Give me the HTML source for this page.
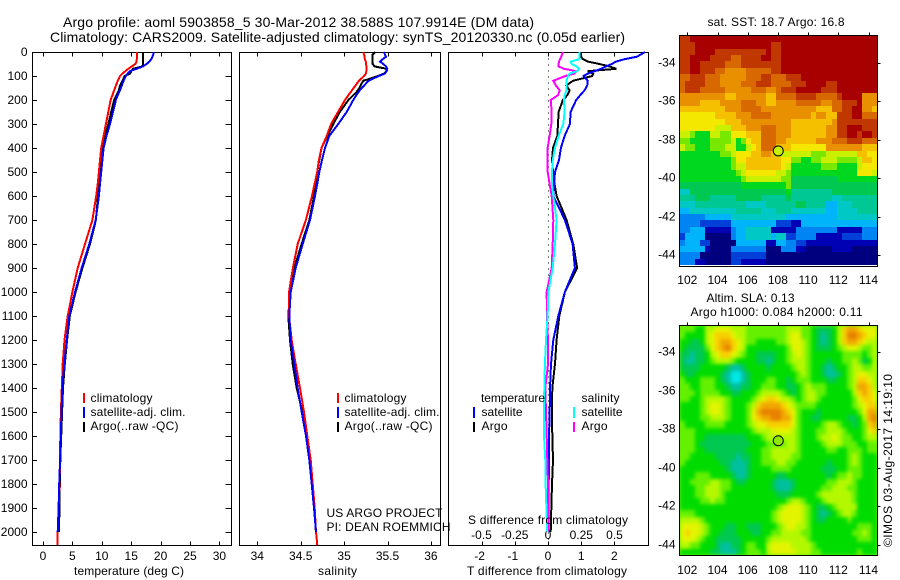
<!DOCTYPE html>
<html>
<head>
<meta charset="utf-8">
<title>Argo profile</title>
<style>
html,body{margin:0;padding:0;background:#fff;}
svg{display:block;}
text{font-family:"Liberation Sans",Arial,sans-serif;font-size:12px;fill:#000;}
.title{font-size:14px;}
</style>
</head>
<body>
<svg id="figure" width="900" height="580" viewBox="0 0 900 580" xmlns="http://www.w3.org/2000/svg">
  <defs>
    <filter id="smooth" filterUnits="userSpaceOnUse" x="680" y="326" width="197" height="229" color-interpolation-filters="sRGB">
      <feGaussianBlur stdDeviation="1.8"/>
    </filter>
  </defs>
  <rect x="0" y="0" width="900" height="580" fill="#fff"/>
  <text class="title" x="63" y="27" textLength="471">Argo profile: aoml 5903858_5 30-Mar-2012 38.588S 107.9914E (DM data)</text>
  <text class="title" x="50" y="42" textLength="575">Climatology: CARS2009. Satellite-adjusted climatology: synTS_20120330.nc (0.05d earlier)</text>

  <g id="marks"></g>

  <text x="74" y="575" textLength="110">temperature (deg C)</text>
  <text x="318" y="575" textLength="39">salinity</text>
  <text x="467" y="575" textLength="160">T difference from climatology</text>
  <text x="468" y="524" textLength="160">S difference from climatology</text>

  <g>
    <rect x="83" y="393" width="2" height="10" fill="#f00"/>
    <rect x="83" y="407" width="2" height="11" fill="#00f"/>
    <rect x="83" y="422" width="2" height="10" fill="#000"/>
    <text x="90.5" y="402" textLength="62">climatology</text>
    <text x="90.5" y="416" textLength="95">satellite-adj. clim.</text>
    <text x="90.5" y="430" textLength="88">Argo(..raw -QC)</text>
  </g>
  <g>
    <rect x="337" y="393" width="2" height="10" fill="#f00"/>
    <rect x="337" y="407" width="2" height="11" fill="#00f"/>
    <rect x="337" y="422" width="2" height="10" fill="#000"/>
    <text x="344.5" y="402" textLength="62">climatology</text>
    <text x="344.5" y="416" textLength="95">satellite-adj. clim.</text>
    <text x="344.5" y="430" textLength="88">Argo(..raw -QC)</text>
  </g>
  <g>
    <text x="481" y="402" textLength="64">temperature</text>
    <text x="481.5" y="416" textLength="41">satellite</text>
    <text x="481.5" y="430" textLength="26">Argo</text>
    <rect x="473" y="407" width="2" height="11" fill="#00f"/>
    <rect x="473" y="422" width="2" height="10" fill="#000"/>
    <text x="581.5" y="402" textLength="38">salinity</text>
    <text x="581.5" y="416" textLength="41">satellite</text>
    <text x="581.5" y="430" textLength="26">Argo</text>
    <rect x="573" y="407" width="2" height="11" fill="#0ff"/>
    <rect x="573" y="422" width="2" height="10" fill="#f0f"/>
  </g>
  <text x="326.5" y="517" textLength="116">US ARGO PROJECT</text>
  <text x="326.5" y="531" textLength="124">PI: DEAN ROEMMICH</text>

  <text x="707.5" y="26" textLength="137">sat. SST: 18.7 Argo: 16.8</text>
  <text x="706.5" y="302" textLength="88">Altim. SLA: 0.13</text>
  <text x="690.5" y="316" textLength="172">Argo h1000: 0.084 h2000: 0.11</text>
  <text transform="translate(892,547) rotate(-90)" x="0" y="0" textLength="173">©IMOS 03-Aug-2017 14:19:10</text>
</svg>

<script>
// Shared depth levels (m) for all profile series
const depths = [0,10,20,30,40,50,60,70,80,90,100,120,140,160,180,200,250,300,350,400,450,500,550,600,700,800,900,1000,1100,1200,1300,1400,1500,1600,1700,1800,1900,2000,2055];

// Temperature profiles (deg C)
const climTemp = [16.0,16.0,16.0,15.95,15.9,15.7,15.1,14.5,14.0,13.5,13.1,12.7,12.4,12.1,11.8,11.5,11.1,10.7,10.3,9.9,9.7,9.5,9.3,9.05,8.4,7.15,5.9,5.0,4.2,3.65,3.35,3.2,3.05,2.95,2.9,2.8,2.65,2.5,2.5];
const satTemp = [18.8,18.75,18.6,18.4,18.1,17.6,17.0,15.9,14.8,14.4,14.1,13.7,13.4,13.1,12.7,12.4,11.9,11.4,10.8,10.3,10.1,9.9,9.7,9.5,8.97,7.87,6.59,5.45,4.47,4.03,3.63,3.28,3.15,3.05,2.9,2.75,2.65,2.5,null];
const argoTemp = [17.0,17.0,17.0,17.0,17.0,17.0,16.9,15.3,15.0,14.8,13.9,13.5,13.1,12.9,12.5,12.1,11.6,11.1,10.6,10.1,9.9,9.7,9.5,9.35,9.0,8.0,6.7,5.55,4.55,4.1,3.7,3.4,3.25,3.1,2.95,2.85,2.8,2.7,null];

// Salinity profiles
const climSal = [35.22,35.23,35.235,35.24,35.25,35.255,35.256,35.256,35.256,35.25,35.23,35.17,35.13,35.09,35.05,35.01,34.93,34.85,34.80,34.74,34.71,34.69,34.66,34.63,34.56,34.465,34.41,34.365,34.365,34.396,34.442,34.492,34.538,34.576,34.615,34.638,34.661,34.676,34.691];
const satSal = [35.46,35.47,35.483,35.445,35.414,35.452,35.483,35.498,35.49,35.47,35.40,35.28,35.23,35.18,35.14,35.106,35.03,34.933,34.83,34.78,34.745,34.714,34.69,34.665,34.607,34.523,34.442,34.385,34.369,34.385,34.426,34.465,34.512,34.561,34.599,34.627,34.653,34.676,null];
const argoSal = [35.36,35.33,35.33,35.33,35.33,35.33,35.35,35.49,35.49,35.46,35.39,35.22,35.19,35.16,35.106,35.05,34.95,34.875,34.806,34.74,34.714,34.69,34.676,34.653,34.6,34.51,34.426,34.377,34.357,34.377,34.408,34.454,34.52,34.57,34.60,34.63,34.655,34.675,null];

// Differences from climatology
const tDiffSat = [2.92,2.8,2.67,2.3,2.05,1.92,1.75,1.6,1.4,1.2,1.07,1.2,1.18,1.1,0.97,0.85,0.68,0.66,0.5,0.39,0.33,0.21,0.18,0.16,0.51,0.74,0.81,0.51,0.31,0.16,0.09,0.06,0.05,0.03,0.03,0.02,0.02,0.02,null];
const tDiffArgo = [1,1,1,1.05,1.2,1.55,1.85,2.06,1.2,1.36,1.33,0.75,0.55,0.65,0.58,0.45,0.32,0.3,0.28,0.15,0.12,0.15,0.2,0.26,0.56,0.76,0.88,0.51,0.34,0.26,0.21,0.13,0.12,0.13,0.15,0.12,0.1,0.08,null];
const sDiffSat = [0.238,0.238,0.238,0.238,0.17,0.18,0.213,0.235,0.22,0.163,0.15,0.138,0.138,0.138,0.125,0.12,0.125,0.115,0.08,0.052,0.036,0.03,0.03,0.04,0.065,0.053,0.035,0.003,-0.003,-0.015,-0.023,-0.028,-0.03,-0.03,-0.02,-0.018,-0.012,-0.005,null];
const sDiffArgo = [0.113,0.105,0.10,0.09,0.083,0.08,0.08,0.12,0.213,0.2,0.13,0.04,0.06,0.088,0.075,0.02,0.028,0.025,0.012,-0.003,-0.005,-0.002,0.012,0.028,0.04,0.035,0.028,-0.01,-0.008,0,0,-0.02,-0.015,-0.01,-0.005,0,0,0,null];

// Axis ticks
const depthTicks = [0,100,200,300,400,500,600,700,800,900,1000,1100,1200,1300,1400,1500,1600,1700,1800,1900,2000];
const tempTicks = [0,5,10,15,20,25,30];
const salTicks = [34,34.5,35,35.5,36];
const tDiffTicks = [-2,-1,0,1,2];
const sDiffTicks = [-0.5,-0.25,0,0.25,0.5];
const lonTicks = [102,104,106,108,110,112,114];
const latTicks = [34,36,38,40,42,44];
const floatLon = 107.9914;
const floatLat = 38.588;

// Sea surface temperature map, colour level per cell (row = north to south)
const sstLevels = [
[15,15,16,16,16,16,16,16,16,16,16,16,16,16,16,16,16,16,16,16,16,16,16,16,16,16,16,16,16,16,16,16,16,16,16,16,16,16,16],
[15,15,15,16,16,16,16,16,16,16,16,16,16,16,16,16,16,16,15,15,16,16,16,16,16,16,16,16,16,16,16,16,16,16,16,16,16,16,16],
[15,15,15,16,16,16,16,15,15,15,15,15,15,15,15,15,15,16,15,15,16,16,16,16,16,16,16,16,16,16,16,16,16,16,16,16,16,16,16],
[15,15,16,16,16,16,15,15,15,15,14,14,15,15,15,15,16,16,15,15,16,16,16,16,16,16,16,16,16,16,16,16,16,16,16,16,16,16,16],
[15,15,16,16,15,15,15,15,15,14,14,14,15,15,15,15,15,15,15,15,16,16,16,16,16,16,16,16,16,16,16,16,16,16,16,16,16,16,16],
[15,15,16,16,15,15,15,14,14,13,13,13,13,14,14,14,14,14,15,15,16,16,16,16,16,16,16,16,16,16,16,16,16,16,16,16,16,16,16],
[14,14,15,15,15,14,14,14,13,13,13,13,13,14,14,14,15,15,14,14,14,15,15,15,16,16,16,16,16,16,16,16,16,16,16,16,16,16,16],
[14,15,15,15,15,14,14,14,13,13,13,13,14,14,14,15,15,15,14,14,14,14,15,15,15,16,16,16,16,15,15,16,16,16,16,16,16,16,16],
[14,15,15,15,14,14,14,14,14,13,13,13,13,13,14,14,14,13,13,14,15,15,15,16,16,16,16,16,15,15,15,16,16,16,16,16,16,16,16],
[13,13,13,13,13,13,13,13,13,12,12,13,13,13,13,13,13,12,12,14,14,14,14,15,15,15,15,14,14,14,14,15,16,16,16,16,13,13,13],
[13,13,13,13,12,12,12,12,13,13,13,13,14,14,14,13,13,12,12,13,13,13,13,14,14,14,14,14,13,13,14,14,15,15,15,16,13,13,13],
[12,12,12,12,12,12,12,12,12,13,13,13,14,14,14,14,13,13,13,13,13,13,13,13,13,13,13,12,12,12,14,14,15,15,16,16,13,13,12],
[11,11,11,11,11,11,11,12,12,12,12,13,13,13,14,14,14,14,13,13,13,13,13,13,13,13,12,13,13,12,12,15,15,15,16,16,14,14,14],
[11,11,11,11,11,11,11,11,11,12,12,12,13,13,13,13,13,13,13,13,13,13,12,12,12,12,12,12,12,12,13,15,15,15,15,15,15,15,15],
[11,11,11,11,11,11,11,10,10,10,12,12,12,13,13,13,14,14,14,13,13,13,12,12,12,12,12,12,12,13,13,15,15,16,16,16,15,15,15],
[10,10,9,8,8,8,10,10,9,9,11,11,11,12,12,12,14,14,14,13,13,13,12,12,12,12,12,12,12,13,13,15,15,16,16,15,16,16,15],
[9,9,8,8,8,8,9,9,9,9,10,8,9,11,12,12,14,14,14,13,13,12,12,12,12,12,12,13,13,13,14,14,14,15,15,15,14,14,14],
[10,9,9,8,8,8,9,9,9,10,10,8,8,10,11,12,14,14,14,12,12,12,11,11,11,11,11,11,11,13,13,13,13,13,13,13,12,12,12],
[8,8,8,8,8,8,8,8,9,9,10,11,11,11,12,12,13,13,12,10,10,10,10,10,10,10,9,9,9,10,10,10,10,10,10,12,12,11,11],
[8,8,8,8,8,8,8,8,8,8,9,11,11,12,12,12,12,12,12,12,11,11,9,9,8,8,9,9,10,10,10,9,9,9,9,10,12,12,11],
[8,8,8,8,8,8,8,8,8,8,9,10,10,12,12,12,12,12,12,12,11,10,8,8,8,8,8,8,9,9,9,8,8,8,8,10,11,11,11],
[8,8,8,8,8,8,8,8,8,8,8,9,10,11,11,11,11,11,11,10,10,9,8,8,8,8,8,8,8,8,8,8,8,8,8,11,11,11,10],
[8,8,8,8,8,8,8,8,8,8,8,8,9,10,10,10,10,10,10,10,9,9,7,7,7,7,7,7,7,7,7,8,8,8,8,8,8,8,8],
[7,7,7,7,7,7,7,7,7,7,7,7,8,8,8,8,8,8,8,8,8,9,7,7,7,7,7,7,7,7,7,7,7,7,7,7,7,7,7],
[5,5,7,7,7,7,7,7,7,7,7,7,7,7,7,7,7,7,7,7,7,8,6,6,6,6,6,6,6,6,7,7,7,7,7,7,7,7,7],
[6,6,6,7,7,7,6,6,6,6,6,7,7,7,7,7,6,6,6,6,6,7,6,6,6,6,6,6,6,6,5,5,6,6,6,6,6,6,6],
[5,5,5,6,6,6,6,6,6,6,6,6,6,5,5,5,5,6,6,6,6,6,6,7,7,6,6,6,6,4,4,5,5,5,6,6,6,6,6],
[4,4,5,5,5,5,5,5,5,5,5,6,6,6,6,6,5,5,5,6,6,6,5,5,5,5,5,5,5,4,4,5,5,5,5,6,6,6,6],
[3,3,3,3,3,4,4,4,4,4,5,5,5,5,5,5,5,5,5,5,5,4,4,4,4,4,4,4,4,4,4,5,5,5,5,5,5,5,5],
[3,3,3,3,2,2,2,2,2,2,4,4,4,4,4,4,4,4,4,2,2,2,1,1,4,4,4,4,4,4,4,4,4,4,4,4,4,4,4],
[3,3,4,4,4,1,1,1,1,1,3,4,4,5,5,5,5,5,1,1,1,1,1,3,3,3,3,3,3,3,3,1,1,1,1,1,3,3,3],
[2,4,4,4,4,0,0,0,0,0,3,4,4,5,5,5,5,5,4,5,5,2,2,3,3,3,3,1,1,1,1,1,2,2,2,2,3,3,3],
[3,4,4,4,2,2,0,0,0,0,0,4,4,4,4,4,4,1,1,4,4,3,3,2,2,1,1,1,1,1,1,1,1,1,1,1,1,1,1],
[4,4,4,4,4,1,0,0,0,0,3,3,3,3,3,3,3,0,0,0,3,3,3,1,1,0,0,0,0,0,1,1,1,1,0,0,0,0,0],
[3,3,3,3,0,0,0,0,0,0,2,2,2,2,2,2,2,0,0,0,0,0,0,0,0,0,0,0,0,0,0,0,0,0,0,0,0,0,0],
[3,3,3,1,1,0,0,0,0,0,2,2,1,1,1,1,1,0,0,0,0,0,0,0,0,0,0,0,0,0,0,0,0,0,0,0,0,0,0]
];

// Sea level anomaly map, colour level per cell (row = north to south)
const slaLevels = [
[4,4,4,3,3,5,5,6,6,6,5,5,5,4,4,4,4,4,4,4,4,5,5,5,4,4,3,2,2,2,3,5,7,8,8,7,6,6,6],
[4,3,3,3,3,5,6,7,7,7,6,5,5,4,4,4,4,4,4,4,4,5,6,6,4,4,3,2,1,2,3,5,7,9,9,8,7,6,6],
[3,3,2,2,3,5,6,7,8,8,7,6,5,4,4,3,3,3,3,4,4,5,6,6,5,4,3,2,1,2,3,5,7,8,8,7,6,5,5],
[3,2,2,2,2,4,6,7,8,9,7,6,5,3,3,3,3,3,3,3,3,4,6,6,5,4,3,2,2,2,3,4,5,6,6,5,4,4,5],
[2,2,1,2,2,3,5,6,7,7,6,5,4,3,3,2,2,2,2,3,3,4,5,6,5,4,3,3,3,3,3,3,4,4,4,4,3,4,5],
[2,1,1,2,2,3,4,5,5,5,4,3,3,3,3,2,2,1,2,3,3,4,5,5,5,4,3,3,3,2,3,3,4,4,5,4,2,3,5],
[2,2,2,2,3,3,3,3,3,2,1,1,2,3,3,3,3,2,3,3,3,3,4,5,5,4,3,3,2,1,2,3,3,4,5,5,4,4,5],
[3,2,2,3,3,3,3,3,2,1,0,0,1,2,3,3,3,3,3,3,3,3,3,4,5,4,3,3,2,1,1,2,3,4,5,6,6,5,5],
[4,3,3,3,4,4,4,3,2,1,0,0,1,2,3,3,3,4,4,3,3,2,3,4,4,4,3,3,3,2,2,3,3,4,5,7,7,6,5],
[4,4,3,3,4,4,4,3,3,2,1,1,2,2,3,3,4,4,4,3,3,2,2,3,4,5,4,4,4,3,3,3,3,4,5,8,8,7,5],
[4,4,4,3,4,4,4,4,3,3,2,2,3,3,3,4,5,5,5,5,4,3,2,3,4,5,5,4,4,3,3,3,3,3,5,7,8,7,6],
[4,4,3,3,4,5,5,5,5,4,3,3,3,3,4,5,6,7,7,6,5,5,4,3,4,5,5,4,3,3,3,3,3,3,4,6,7,7,6],
[3,3,3,3,4,5,6,6,5,4,3,3,3,4,5,7,8,8,8,8,7,6,5,4,4,4,4,3,3,3,3,3,3,3,4,5,6,7,7],
[3,3,3,3,4,5,6,6,5,4,3,3,3,4,6,8,9,9,9,9,8,7,6,4,3,3,3,2,3,3,3,3,3,3,3,4,6,8,8],
[3,3,3,3,4,4,5,5,5,4,3,3,3,4,6,7,8,8,9,9,8,8,6,4,3,3,2,2,3,3,3,3,3,2,2,3,5,8,9],
[4,3,3,3,3,4,4,4,4,3,3,3,3,4,5,6,6,7,7,7,7,7,6,4,3,3,3,3,4,5,5,4,3,3,2,3,4,7,8],
[4,4,4,3,3,3,3,3,3,3,3,3,3,3,4,5,5,5,6,6,6,6,5,4,3,3,3,4,4,5,5,5,4,3,3,3,4,6,7],
[4,4,4,3,3,2,2,2,2,2,2,2,2,3,3,3,4,5,5,5,5,5,5,4,3,3,3,4,5,5,6,5,4,4,3,3,4,5,5],
[4,4,4,3,2,2,2,2,2,2,2,2,2,2,3,3,3,4,4,4,4,5,5,4,3,3,3,3,4,5,5,5,4,4,4,3,3,4,4],
[4,4,4,3,3,2,2,2,2,2,2,2,2,3,3,3,4,4,5,5,5,5,5,4,3,3,3,3,3,4,4,3,3,4,4,4,3,4,4],
[4,4,3,3,3,3,3,2,2,2,2,1,2,2,3,3,4,4,5,5,5,5,4,4,3,3,3,3,3,3,3,3,3,4,5,4,3,3,3],
[4,3,3,3,3,3,3,3,2,2,1,1,1,2,3,3,4,4,4,5,5,4,4,3,3,3,3,3,3,2,3,3,3,4,5,4,3,3,3],
[3,3,3,3,3,3,3,3,3,2,1,1,1,2,3,3,3,3,4,4,4,4,3,3,3,3,3,3,2,2,2,3,3,4,4,4,3,3,3],
[3,3,3,4,4,4,3,3,3,3,2,1,1,2,3,3,3,3,3,2,2,3,3,3,3,3,3,3,3,2,3,4,4,5,4,4,3,3,3],
[3,3,4,4,4,4,5,5,4,4,3,2,2,3,3,3,3,3,2,1,1,1,2,3,3,3,3,3,3,4,4,5,5,5,4,3,3,3,3],
[3,3,3,4,4,5,5,5,4,4,3,3,3,3,3,3,3,3,2,1,1,1,2,3,3,3,3,3,4,4,5,5,5,4,4,3,3,3,3],
[3,3,3,4,4,5,5,5,4,3,3,3,3,3,3,3,3,3,3,2,2,2,3,3,3,3,3,4,5,5,5,5,5,5,4,3,3,3,3],
[3,3,3,3,4,4,5,4,4,3,3,3,3,3,3,3,3,3,3,3,3,4,5,5,4,3,3,3,4,5,5,5,5,5,4,3,3,3,3],
[3,3,3,3,3,3,3,3,3,3,3,3,3,3,3,3,3,3,3,4,5,6,6,6,5,4,3,2,2,3,4,5,5,5,5,3,3,3,3],
[4,4,4,3,3,3,3,3,3,3,3,3,3,3,3,3,3,3,4,5,6,6,6,6,5,4,3,2,1,2,3,4,5,5,4,3,3,3,3],
[5,5,5,5,4,3,3,3,3,3,3,3,3,3,3,3,3,3,4,5,6,6,6,6,5,4,3,2,2,3,3,3,3,4,3,3,3,3,3],
[6,6,6,6,5,4,3,3,3,2,2,3,3,2,2,2,3,3,3,4,5,6,6,5,5,4,3,3,3,3,3,3,3,3,3,4,4,4,3],
[6,7,6,6,5,4,3,3,2,2,2,3,3,3,2,2,3,3,4,4,5,5,5,5,4,4,3,3,3,3,3,3,3,3,4,4,5,4,3],
[6,6,6,5,4,3,3,2,2,2,2,2,3,3,3,3,3,4,5,5,5,5,5,5,5,4,3,3,3,3,3,3,3,3,3,4,4,4,3],
[5,5,4,4,3,3,3,2,1,1,2,2,3,4,4,3,3,5,6,6,6,6,5,5,5,5,4,3,3,3,3,3,3,3,3,3,3,3,3],
[3,3,3,3,3,3,2,2,1,1,1,2,3,4,4,4,3,5,6,6,6,6,6,5,5,5,4,4,3,3,3,3,3,3,3,4,3,3,3]
];

const SVGNS = 'http://www.w3.org/2000/svg';
const marks = document.getElementById('marks');

// Colour scales
const sstColors = ['#00007f','#0000b4','#0040d8','#0084f4','#00b4fc','#00c8c4','#00c894','#00c850','#00d820','#78e800','#c8f000','#f4e800','#f4c000','#e89000','#d86800','#c03800','#a80000'];
const slaColors = ['#00e8e8','#00c0a0','#00c850','#00dc00','#64f000','#b4f800','#e4f400','#f8d000','#f0a800','#e88000'];

// Axis functions
function depthY(d){ return 52 + d * 0.24; }
function tempX(v){ return 43 + v * 5.88; }
function salX(v){ return 257.3 + (v - 34) * 86.8; }
function tDiffX(v){ return 548 + v * 33.2; }
function sDiffX(v){ return 548 + v * 133; }
function lonX(v){ return 687.3 + (v - 102) * 15.1; }
function sstLatY(v){ return 62.7 + (v - 34) * 19.23; }
function slaLatY(v){ return 352.3 + (v - 34) * 19.27; }

function svgEl(tag){ return document.createElementNS(SVGNS, tag); }

function addLine(parent, x1, y1, x2, y2, name){
  const el = svgEl('line');
  el.setAttribute('x1', x1);
  el.setAttribute('y1', y1);
  el.setAttribute('x2', x2);
  el.setAttribute('y2', y2);
  el.setAttribute('stroke', '#000');
  el.setAttribute('stroke-width', 1);
  el.setAttribute('shape-rendering', 'crispEdges');
  
  
  parent.appendChild(el);
}

function addLabel(parent, x, y, str, anchor, name){
  const el = svgEl('text');
  el.setAttribute('x', x);
  el.setAttribute('y', y);
  el.setAttribute('text-anchor', anchor);
  el.textContent = str;
  
  
  parent.appendChild(el);
}

function addFrame(x, y, w, h, name){
  const el = svgEl('rect');
  el.setAttribute('x', x);
  el.setAttribute('y', y);
  el.setAttribute('width', w);
  el.setAttribute('height', h);
  el.setAttribute('fill', 'none');
  el.setAttribute('stroke', '#000');
  el.setAttribute('stroke-width', 1);
  el.setAttribute('shape-rendering', 'crispEdges');
  
  
  marks.appendChild(el);
}

function addProfile(values, xFn, color, name){
  const pts = [];
  values.forEach(function(v, i){
    if (v !== null) pts.push(xFn(v).toFixed(1) + ',' + depthY(depths[i]).toFixed(1));
  });
  const el = svgEl('polyline');
  el.setAttribute('points', pts.join(' '));
  el.setAttribute('fill', 'none');
  el.setAttribute('stroke', color);
  el.setAttribute('stroke-width', 2);
  el.setAttribute('shape-rendering', 'crispEdges');
  
  
  marks.appendChild(el);
}

function addHeatmap(levels, colors, left, right, top, bottom, name, filterId){
  if (filterId) {
    const base = svgEl('rect');
    base.setAttribute('x', left);
    base.setAttribute('y', top);
    base.setAttribute('width', right - left);
    base.setAttribute('height', bottom - top);
    base.setAttribute('fill', colors[4]);
    
    
    marks.appendChild(base);
  }
  const g = svgEl('g');
  
  
  if (filterId) g.setAttribute('filter', 'url(#' + filterId + ')');
  const nRows = levels.length;
  levels.forEach(function(row, r){
    const nCols = row.length;
    const y0 = Math.round(top + r * (bottom - top) / nRows);
    const y1 = Math.round(top + (r + 1) * (bottom - top) / nRows);
    row.forEach(function(level, c){
      const x0 = Math.round(left + c * (right - left) / nCols);
      const x1 = Math.round(left + (c + 1) * (right - left) / nCols);
      const cell = svgEl('rect');
      cell.setAttribute('x', x0);
      cell.setAttribute('y', y0);
      cell.setAttribute('width', x1 - x0);
      cell.setAttribute('height', y1 - y0);
      cell.setAttribute('fill', colors[level]);
      cell.setAttribute('shape-rendering', 'crispEdges');
      
      
      g.appendChild(cell);
    });
  });
  marks.appendChild(g);
}

function addMarker(cx, cy, fill, name){
  const el = svgEl('circle');
  el.setAttribute('cx', cx);
  el.setAttribute('cy', cy);
  el.setAttribute('r', 5);
  el.setAttribute('fill', fill);
  el.setAttribute('stroke', '#000');
  el.setAttribute('stroke-width', 1);
  
  
  marks.appendChild(el);
}

const PANEL_TOP = 52.5, PANEL_BOTTOM = 545.5;

// Profile panel frames and x ticks
function profilePanel(left, right, xFn, ticks, name){
  addFrame(left, PANEL_TOP, right - left, PANEL_BOTTOM - PANEL_TOP, name + '-frame');
  ticks.forEach(function(t){
    const x = Math.round(xFn(t)) + 0.5;
    addLine(marks, x, PANEL_TOP, x, PANEL_TOP + 4, name + '-top-tick');
    addLine(marks, x, PANEL_BOTTOM - 4, x, PANEL_BOTTOM, name + '-bottom-tick');
  });
}

profilePanel(32.5, 231.5, tempX, tempTicks, 'temperature-panel');
profilePanel(239.5, 440.5, salX, salTicks, 'salinity-panel');
profilePanel(448.5, 648.5, tDiffX, tDiffTicks, 'difference-panel');

// Depth ticks on the temperature panel
depthTicks.forEach(function(d){
  const y = Math.round(depthY(d)) + 0.5;
  addLine(marks, 32.5, y, 37, y, 'depth-tick-left');
  addLine(marks, 225.5, y, 231.5, y, 'depth-tick-right');
  addLabel(marks, 27.5, y + 3.5, String(d), 'end', 'depth-tick-label');
});

tempTicks.forEach(function(t){
  addLabel(marks, tempX(t), 560, String(t), 'middle', 'temperature-tick-label');
});
salTicks.forEach(function(t){
  addLabel(marks, salX(t), 560, String(t), 'middle', 'salinity-tick-label');
});
tDiffTicks.forEach(function(t){
  addLabel(marks, tDiffX(t) - (t < 0 ? 2 : 0), 560, String(t), 'middle', 't-difference-tick-label');
});
sDiffTicks.forEach(function(t){
  addLabel(marks, sDiffX(t), 539, String(t), 'middle', 's-difference-tick-label');
});

// Temperature profiles
addProfile(argoTemp, tempX, '#000', 'argo-temperature-line');
addProfile(climTemp, tempX, '#f00', 'climatology-temperature-line');
addProfile(satTemp, tempX, '#00f', 'satellite-temperature-line');

// Salinity profiles
addProfile(argoSal, salX, '#000', 'argo-salinity-line');
addProfile(climSal, salX, '#f00', 'climatology-salinity-line');
addProfile(satSal, salX, '#00f', 'satellite-salinity-line');

// Zero line in the difference panel
const zeroLine = svgEl('line');
zeroLine.setAttribute('x1', 548.5);
zeroLine.setAttribute('y1', PANEL_TOP);
zeroLine.setAttribute('x2', 548.5);
zeroLine.setAttribute('y2', PANEL_BOTTOM);
zeroLine.setAttribute('stroke', '#000');
zeroLine.setAttribute('stroke-width', 1);
zeroLine.setAttribute('stroke-dasharray', '1 5');
zeroLine.setAttribute('shape-rendering', 'crispEdges');


marks.appendChild(zeroLine);

// Difference profiles
addProfile(tDiffArgo, tDiffX, '#000', 'argo-t-difference-line');
addProfile(tDiffSat, tDiffX, '#00f', 'satellite-t-difference-line');
addProfile(sDiffArgo, sDiffX, '#f0f', 'argo-s-difference-line');
addProfile(sDiffSat, sDiffX, '#0ff', 'satellite-s-difference-line');

// Maps
function mapPanel(top, bottom, latFn, levels, colors, name, labelOffsetY, markerFill, filterId){
  addHeatmap(levels, colors, 680, 877, top + 0.5, bottom - (name === 'sst-map' ? 1.5 : 0.5), name + '-cells', filterId);
  addFrame(679.5, top, 198, bottom - top, name + '-frame');
  lonTicks.forEach(function(lon){
    const x = Math.round(lonX(lon)) + 0.5;
    addLine(marks, x, top - 3, x, top, name + '-lon-tick');
    addLabel(marks, lonX(lon), labelOffsetY, String(lon), 'middle', name + '-lon-label');
  });
  latTicks.forEach(function(lat){
    const y = Math.round(latFn(lat)) + 0.5;
    addLine(marks, 877.5, y, 880.5, y, name + '-lat-tick');
    addLabel(marks, 675.5, y + 3, '-' + lat, 'end', name + '-lat-label');
  });
  addLine(marks, 877.5, Math.round(latFn(34)) - 7.5, 877.5, Math.round(latFn(34)) + 3.5, name + '-edge-mark');
  addMarker(lonX(floatLon) + 0.5, latFn(floatLat), markerFill, name + '-float-marker');
}

mapPanel(35.5, 266.5, sstLatY, sstLevels, sstColors, 'sst-map', 284, '#c8f000', null);
mapPanel(325.5, 555.5, slaLatY, slaLevels, slaColors, 'sla-map', 574, '#90e800', 'smooth');
</script>
</body>
</html>
